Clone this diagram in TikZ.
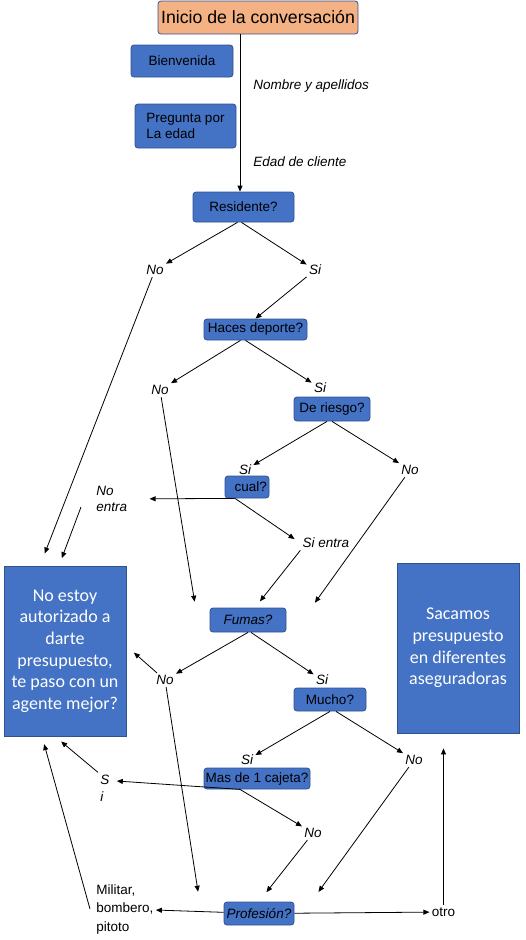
\documentclass[tikz,border=0pt]{standalone}
\usepackage{fontspec}
\setmainfont{Liberation Sans}
\newfontfamily\calibrifont{Carlito}
\usetikzlibrary{arrows.meta}
\definecolor{boxblue}{HTML}{4472C4}
\definecolor{lineblue}{HTML}{2F528F}
\definecolor{startorange}{HTML}{F4B183}
\tikzset{
  qbox/.style={draw=lineblue,fill=boxblue,rounded corners=3pt,inner sep=1pt,font=\fontsize{13.5}{16}\selectfont},
  bigbox/.style={draw=lineblue,fill=boxblue,text=white,minimum width=122pt,minimum height=170pt,align=center,font=\fontsize{18}{21.6}\calibrifont},
  lbl/.style={inner sep=2pt,font=\fontsize{13.5}{16}\selectfont\itshape},
}
\begin{document}
\begin{tikzpicture}[x=1pt,y=-1pt,>={Triangle[length=6pt,width=5pt]},line width=0.8pt]
\useasboundingbox (0,0) rectangle (525,940);

% boxes
\node(inicio)[qbox,fill=startorange,minimum width=200pt,minimum height=33pt,font=\fontsize{17.7}{20}\selectfont] at (258,17.5) {Inicio de la conversación};
\node(bienv)[qbox,minimum width=102pt,minimum height=32pt] at (182,61) {Bienvenida};
\node(edad)[qbox,minimum width=101pt,minimum height=44pt,align=left] at (185.5,126) {Pregunta por\\La edad};
\node(res)[qbox,minimum width=101pt,minimum height=30pt] at (243.5,207) {Residente?};
\node(haces)[qbox,minimum width=103pt,minimum height=21pt] at (255.5,329.5) {Haces deporte?};
\node(riesgo)[qbox,minimum width=76pt,minimum height=24pt] at (332,409) {De riesgo?};
\node(cual)[qbox,text width=40pt,align=right,inner xsep=2pt,minimum height=22pt] at (247,487) {cual?};
\node(fumas)[qbox,minimum width=76pt,minimum height=24pt,font=\fontsize{13.5}{16}\selectfont\itshape] at (248,620) {Fumas?};
\node(mucho)[qbox,minimum width=72pt,minimum height=23pt] at (330,699.5) {Mucho?};
\node(mas)[qbox,minimum width=106pt,minimum height=21pt] at (257,778.5) {Mas de 1 cajeta?};
\node(profesion)[qbox,minimum width=70pt,minimum height=23pt,font=\fontsize{13.5}{16}\selectfont\itshape] at (259,913.5) {Profesión?};
\node(agente)[bigbox] at (65,651) {No estoy\\autorizado a\\darte\\presupuesto,\\te paso con un\\agente mejor?};
\node(sacamos)[bigbox] at (458,648) {Sacamos\\presupuesto\\en diferentes\\aseguradoras};

% labels
\node(nombre)[lbl,anchor=west] at (251,86) {Nombre y apellidos};
\node(cliente)[lbl,anchor=west] at (251,162) {Edad de cliente};
\node(no1)[lbl] at (155,270) {No};
\node(si1)[lbl] at (315,270) {Si};
\node(no2)[lbl] at (160,390) {No};
\node(si2)[lbl] at (320,388) {Si};
\node(si3)[lbl] at (245,470) {Si};
\node(no4)[lbl] at (410,470) {No};
\node(noentra)[lbl,anchor=west,align=left] at (94,499) {No\\entra};
\node(sientra)[lbl] at (326,543) {Si entra};
\node(no5)[lbl] at (165,680) {No};
\node(si4)[lbl] at (322,680) {Si};
\node(si5)[lbl] at (247,760) {Si};
\node(no6)[lbl] at (414,760) {No};
\node(si6)[lbl,anchor=west,align=left,font=\fontsize{13.5}{17}\selectfont\itshape] at (98,788) {S\\i};
\node(no7)[lbl] at (313,833) {No};
\node(militar)[lbl,anchor=west,align=left,font=\fontsize{13.5}{18.5}\selectfont] at (94,909) {Militar,\\bombero,\\pitoto};
\node(otro)[lbl,font=\fontsize{13.5}{16}\selectfont] at (443.5,912) {otro};

% arrows
\draw[->] ([xshift=-18pt]inicio.south) -- ([xshift=-3.5pt]res.north);
\draw[->] ([xshift=-6pt]res.south) -- (no1);
\draw[->] ([xshift=-2pt]res.south) -- (si1);
\draw[->,shorten >=13pt] (no1) -- ([xshift=-25pt]agente.north);
\draw[->] (si1) -- (haces.north);
\draw[->] ([xshift=-15pt]haces.south) -- (no2);
\draw[->] ([xshift=-10pt]haces.south) -- (si2);
\draw[->,shorten >=6pt] (no2) -- ([xshift=-14pt]fumas.north west);
\draw[->] ([xshift=-5pt]riesgo.south) -- (si3);
\draw[->] (riesgo.south) -- (no4);
\draw[->,shorten >=20pt] ([xshift=10pt]cual.south west) -- (noentra);
\draw[->,shorten >=8pt] ([xshift=-13pt,yshift=-8pt]noentra.west) -- ([xshift=-6pt]agente.north);
\draw[->,shorten >=7pt] ([xshift=-12pt]cual.south) -- (sientra.west);
\draw[->,shorten >=8pt] (sientra.south west) -- ([xshift=7pt]fumas.north);
\draw[->,shorten >=6pt] (no4) -- ([xshift=25pt]fumas.north east);
\draw[->] (fumas.south) -- (no5);
\draw[->] ([xshift=3pt]fumas.south) -- (si4);
\draw[->,shorten >=10pt] (no5) -- ([yshift=5pt]agente.east);
\draw[->,shorten >=10pt] (no5) -- ([xshift=-24pt]profesion.north west);
\draw[->] (mucho.south) -- (si5);
\draw[->] ([xshift=6pt]mucho.south) -- (no6);
\draw[->] ([xshift=-17pt]mas.south) -- ([xshift=5pt,yshift=7pt]si6.east);
\draw[->,shorten >=8pt] (si6.north west) -- ([xshift=-10pt]agente.south);
\draw[->] ([xshift=-17pt]mas.south) -- (no7);
\draw[->,shorten >=12pt] (no7) -- (profesion.north);
\draw[->,shorten >=12pt] (no6) -- ([xshift=17pt]profesion.north east);
\draw[->] (profesion) -- (militar);
\draw[->,shorten >=8pt] ([xshift=-4pt]militar.west) -- ([xshift=-23pt]agente.south);
\draw[->] (profesion) -- (otro);
\draw[->,shorten >=15pt] (otro.north) -- (otro.north |- sacamos.south);

\end{tikzpicture}
\end{document}
